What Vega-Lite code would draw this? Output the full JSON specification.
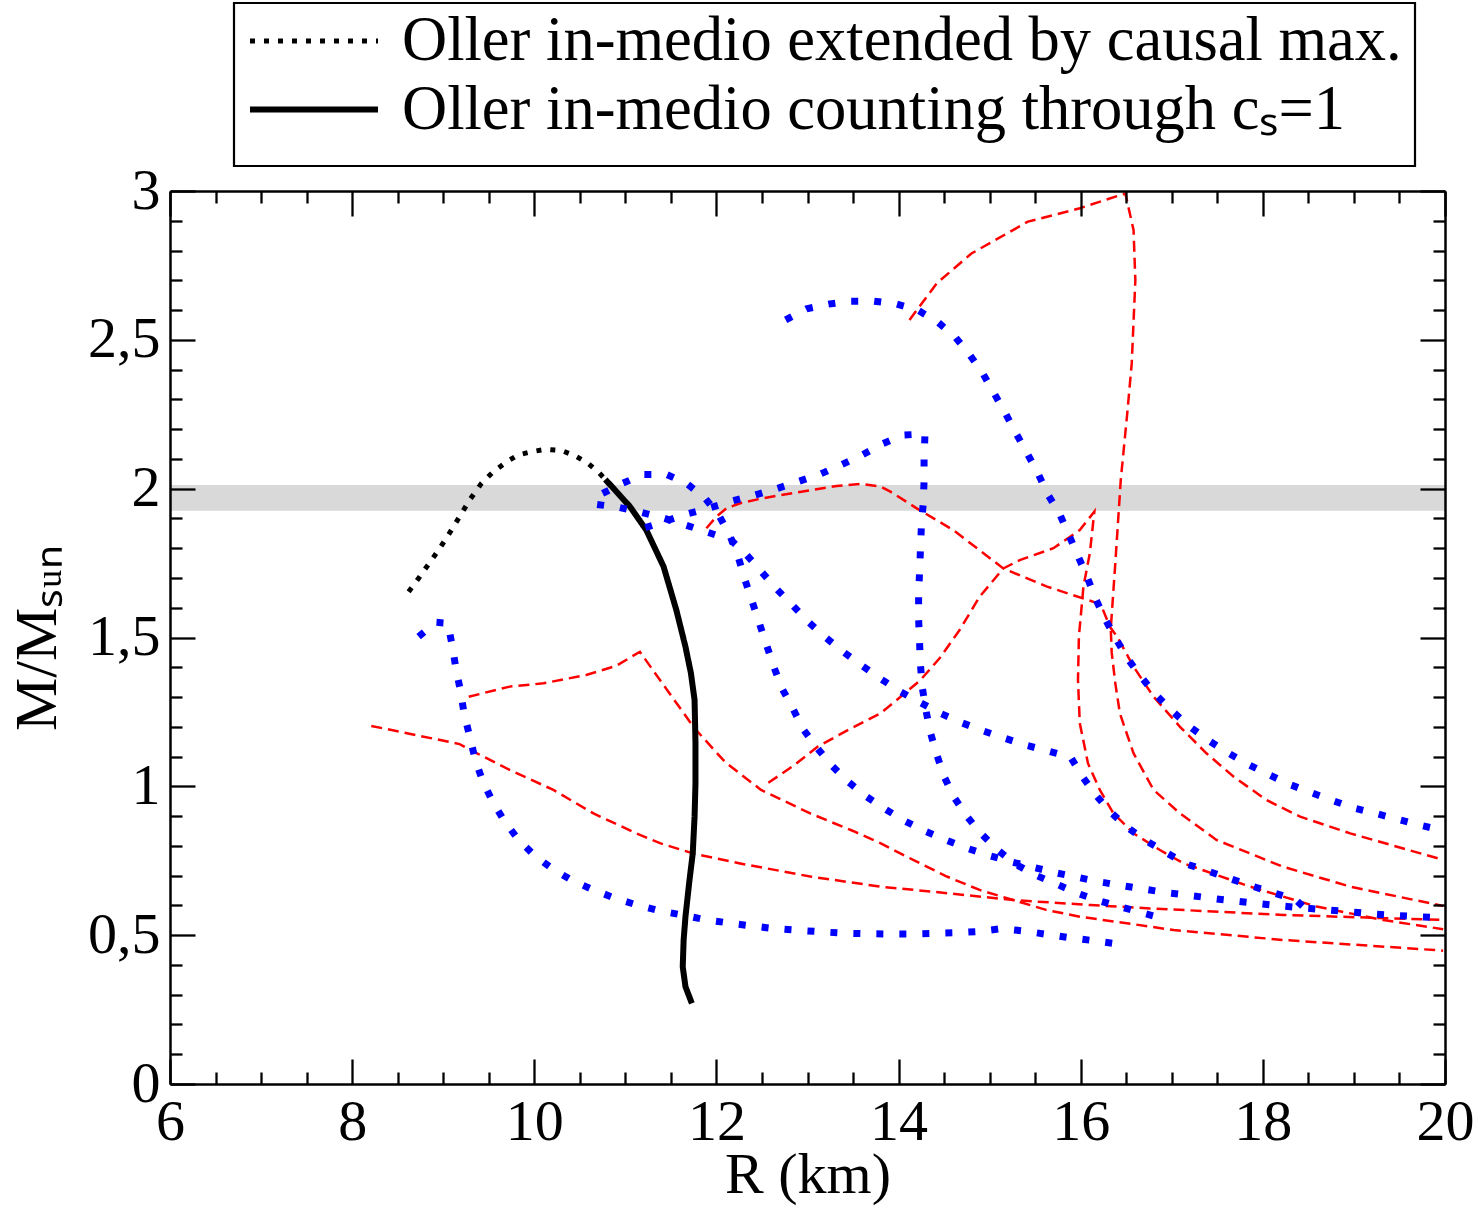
{
  "$schema": "https://vega.github.io/schema/vega-lite/v6.json",
  "width": 1275,
  "height": 893,
  "autosize": {"type": "none"},
  "padding": {"left": 170, "top": 191, "right": 34, "bottom": 125},
  "background": "white",
  "config": {
    "view": {"stroke": null},
    "font": "Liberation Serif"
  },
  "datasets": {
    "band": [{"x1": 6, "x2": 20, "y1": 1.926, "y2": 2.012}],
    "black": [
      {"series": "Oller in-medio extended by causal max.", "R": 8.62, "M": 1.654},
      {"series": "Oller in-medio extended by causal max.", "R": 8.73, "M": 1.699},
      {"series": "Oller in-medio extended by causal max.", "R": 8.82, "M": 1.738},
      {"series": "Oller in-medio extended by causal max.", "R": 8.95, "M": 1.794},
      {"series": "Oller in-medio extended by causal max.", "R": 9.09, "M": 1.861},
      {"series": "Oller in-medio extended by causal max.", "R": 9.18, "M": 1.906},
      {"series": "Oller in-medio extended by causal max.", "R": 9.29, "M": 1.962},
      {"series": "Oller in-medio extended by causal max.", "R": 9.42, "M": 2.018},
      {"series": "Oller in-medio extended by causal max.", "R": 9.55, "M": 2.057},
      {"series": "Oller in-medio extended by causal max.", "R": 9.70, "M": 2.091},
      {"series": "Oller in-medio extended by causal max.", "R": 9.82, "M": 2.113},
      {"series": "Oller in-medio extended by causal max.", "R": 9.97, "M": 2.124},
      {"series": "Oller in-medio extended by causal max.", "R": 10.12, "M": 2.132},
      {"series": "Oller in-medio extended by causal max.", "R": 10.30, "M": 2.128},
      {"series": "Oller in-medio extended by causal max.", "R": 10.45, "M": 2.11},
      {"series": "Oller in-medio extended by causal max.", "R": 10.59, "M": 2.085},
      {"series": "Oller in-medio extended by causal max.", "R": 10.70, "M": 2.057},
      {"series": "Oller in-medio extended by causal max.", "R": 10.78, "M": 2.031},
      {"series": "Oller in-medio counting through cₛ=1", "R": 10.78, "M": 2.031},
      {"series": "Oller in-medio counting through cₛ=1", "R": 11.05, "M": 1.94},
      {"series": "Oller in-medio counting through cₛ=1", "R": 11.23, "M": 1.861},
      {"series": "Oller in-medio counting through cₛ=1", "R": 11.42, "M": 1.738},
      {"series": "Oller in-medio counting through cₛ=1", "R": 11.56, "M": 1.592},
      {"series": "Oller in-medio counting through cₛ=1", "R": 11.66, "M": 1.469},
      {"series": "Oller in-medio counting through cₛ=1", "R": 11.72, "M": 1.38},
      {"series": "Oller in-medio counting through cₛ=1", "R": 11.76, "M": 1.29},
      {"series": "Oller in-medio counting through cₛ=1", "R": 11.77, "M": 1.145},
      {"series": "Oller in-medio counting through cₛ=1", "R": 11.77, "M": 1.01},
      {"series": "Oller in-medio counting through cₛ=1", "R": 11.76, "M": 0.898},
      {"series": "Oller in-medio counting through cₛ=1", "R": 11.74, "M": 0.775},
      {"series": "Oller in-medio counting through cₛ=1", "R": 11.70, "M": 0.674},
      {"series": "Oller in-medio counting through cₛ=1", "R": 11.66, "M": 0.562},
      {"series": "Oller in-medio counting through cₛ=1", "R": 11.64, "M": 0.484},
      {"series": "Oller in-medio counting through cₛ=1", "R": 11.63, "M": 0.394},
      {"series": "Oller in-medio counting through cₛ=1", "R": 11.66, "M": 0.327},
      {"series": "Oller in-medio counting through cₛ=1", "R": 11.73, "M": 0.271}
    ],
    "blue": [
      {"c": "B1", "R": 8.73, "M": 1.503}, {"c": "B1", "R": 8.92, "M": 1.551}, {"c": "B1", "R": 9.05, "M": 1.548},
      {"c": "B1", "R": 9.10, "M": 1.471}, {"c": "B1", "R": 9.14, "M": 1.395}, {"c": "B1", "R": 9.19, "M": 1.32},
      {"c": "B1", "R": 9.23, "M": 1.243}, {"c": "B1", "R": 9.29, "M": 1.169}, {"c": "B1", "R": 9.35, "M": 1.092},
      {"c": "B1", "R": 9.43, "M": 1.02}, {"c": "B1", "R": 9.54, "M": 0.95}, {"c": "B1", "R": 9.67, "M": 0.884},
      {"c": "B1", "R": 9.82, "M": 0.823}, {"c": "B1", "R": 10.0, "M": 0.768}, {"c": "B1", "R": 10.20, "M": 0.723},
      {"c": "B1", "R": 10.42, "M": 0.683}, {"c": "B1", "R": 10.65, "M": 0.652}, {"c": "B1", "R": 10.88, "M": 0.625},
      {"c": "B1", "R": 11.12, "M": 0.602}, {"c": "B1", "R": 11.37, "M": 0.582}, {"c": "B1", "R": 11.62, "M": 0.568},
      {"c": "B1", "R": 11.86, "M": 0.553}, {"c": "B1", "R": 12.11, "M": 0.542}, {"c": "B1", "R": 12.36, "M": 0.532},
      {"c": "B1", "R": 12.61, "M": 0.523}, {"c": "B1", "R": 12.86, "M": 0.517}, {"c": "B1", "R": 13.12, "M": 0.512},
      {"c": "B1", "R": 13.37, "M": 0.507}, {"c": "B1", "R": 13.62, "M": 0.505}, {"c": "B1", "R": 13.87, "M": 0.504},
      {"c": "B1", "R": 14.12, "M": 0.504}, {"c": "B1", "R": 14.37, "M": 0.506}, {"c": "B1", "R": 14.62, "M": 0.508},
      {"c": "B1", "R": 14.87, "M": 0.512}, {"c": "B1", "R": 15.13, "M": 0.522}, {"c": "B1", "R": 15.38, "M": 0.514},
      {"c": "B1", "R": 15.62, "M": 0.503}, {"c": "B1", "R": 15.87, "M": 0.492}, {"c": "B1", "R": 16.13, "M": 0.482},
      {"c": "B1", "R": 16.37, "M": 0.472},

      {"c": "B2", "R": 12.76, "M": 2.567}, {"c": "B2", "R": 12.99, "M": 2.604}, {"c": "B2", "R": 13.23, "M": 2.62},
      {"c": "B2", "R": 13.47, "M": 2.63}, {"c": "B2", "R": 13.73, "M": 2.63}, {"c": "B2", "R": 13.98, "M": 2.62},
      {"c": "B2", "R": 14.21, "M": 2.60}, {"c": "B2", "R": 14.43, "M": 2.56}, {"c": "B2", "R": 14.62, "M": 2.51},
      {"c": "B2", "R": 14.78, "M": 2.45}, {"c": "B2", "R": 14.92, "M": 2.39}, {"c": "B2", "R": 15.05, "M": 2.32},
      {"c": "B2", "R": 15.17, "M": 2.255}, {"c": "B2", "R": 15.29, "M": 2.186}, {"c": "B2", "R": 15.41, "M": 2.12},
      {"c": "B2", "R": 15.53, "M": 2.052}, {"c": "B2", "R": 15.64, "M": 1.98}, {"c": "B2", "R": 15.77, "M": 1.914},
      {"c": "B2", "R": 15.87, "M": 1.844}, {"c": "B2", "R": 15.97, "M": 1.774}, {"c": "B2", "R": 16.07, "M": 1.704},
      {"c": "B2", "R": 16.16, "M": 1.632}, {"c": "B2", "R": 16.27, "M": 1.561}, {"c": "B2", "R": 16.39, "M": 1.494},
      {"c": "B2", "R": 16.52, "M": 1.427}, {"c": "B2", "R": 16.67, "M": 1.365}, {"c": "B2", "R": 16.83, "M": 1.306},
      {"c": "B2", "R": 17.01, "M": 1.251}, {"c": "B2", "R": 17.2, "M": 1.20}, {"c": "B2", "R": 17.40, "M": 1.155},
      {"c": "B2", "R": 17.62, "M": 1.112}, {"c": "B2", "R": 17.83, "M": 1.075}, {"c": "B2", "R": 18.06, "M": 1.04},
      {"c": "B2", "R": 18.28, "M": 1.008}, {"c": "B2", "R": 18.52, "M": 0.98}, {"c": "B2", "R": 18.76, "M": 0.953},
      {"c": "B2", "R": 18.99, "M": 0.928}, {"c": "B2", "R": 19.24, "M": 0.909}, {"c": "B2", "R": 19.48, "M": 0.889},
      {"c": "B2", "R": 19.73, "M": 0.869}, {"c": "B2", "R": 19.96, "M": 0.853},

      {"c": "B3", "R": 10.75, "M": 1.984}, {"c": "B3", "R": 10.97, "M": 2.018}, {"c": "B3", "R": 11.20, "M": 2.048},
      {"c": "B3", "R": 11.45, "M": 2.048}, {"c": "B3", "R": 11.67, "M": 2.018}, {"c": "B3", "R": 11.87, "M": 1.97},
      {"c": "B3", "R": 12.03, "M": 1.909}, {"c": "B3", "R": 12.15, "M": 1.841}, {"c": "B3", "R": 12.24, "M": 1.77},
      {"c": "B3", "R": 12.31, "M": 1.697}, {"c": "B3", "R": 12.39, "M": 1.623}, {"c": "B3", "R": 12.47, "M": 1.549},
      {"c": "B3", "R": 12.55, "M": 1.475}, {"c": "B3", "R": 12.63, "M": 1.402}, {"c": "B3", "R": 12.72, "M": 1.329},
      {"c": "B3", "R": 12.84, "M": 1.261}, {"c": "B3", "R": 12.95, "M": 1.193}, {"c": "B3", "R": 13.10, "M": 1.131},
      {"c": "B3", "R": 13.26, "M": 1.072}, {"c": "B3", "R": 13.44, "M": 1.017}, {"c": "B3", "R": 13.64, "M": 0.967},
      {"c": "B3", "R": 13.85, "M": 0.924}, {"c": "B3", "R": 14.06, "M": 0.885}, {"c": "B3", "R": 14.28, "M": 0.851},
      {"c": "B3", "R": 14.52, "M": 0.82}, {"c": "B3", "R": 14.75, "M": 0.792}, {"c": "B3", "R": 14.99, "M": 0.768},
      {"c": "B3", "R": 15.23, "M": 0.747}, {"c": "B3", "R": 15.48, "M": 0.728}, {"c": "B3", "R": 15.72, "M": 0.71},
      {"c": "B3", "R": 15.97, "M": 0.694}, {"c": "B3", "R": 16.21, "M": 0.679}, {"c": "B3", "R": 16.46, "M": 0.666},
      {"c": "B3", "R": 16.71, "M": 0.654}, {"c": "B3", "R": 16.96, "M": 0.642}, {"c": "B3", "R": 17.21, "M": 0.633},
      {"c": "B3", "R": 17.46, "M": 0.623}, {"c": "B3", "R": 17.71, "M": 0.614}, {"c": "B3", "R": 17.96, "M": 0.606},
      {"c": "B3", "R": 18.21, "M": 0.598}, {"c": "B3", "R": 18.46, "M": 0.591}, {"c": "B3", "R": 18.71, "M": 0.585},
      {"c": "B3", "R": 18.97, "M": 0.578}, {"c": "B3", "R": 19.22, "M": 0.571}, {"c": "B3", "R": 19.47, "M": 0.566},
      {"c": "B3", "R": 19.72, "M": 0.562}, {"c": "B3", "R": 19.96, "M": 0.558},

      {"c": "B4", "R": 10.69, "M": 1.947}, {"c": "B4", "R": 10.93, "M": 1.937}, {"c": "B4", "R": 11.18, "M": 1.92},
      {"c": "B4", "R": 11.43, "M": 1.90}, {"c": "B4", "R": 11.67, "M": 1.877}, {"c": "B4", "R": 11.90, "M": 1.854},
      {"c": "B4", "R": 12.16, "M": 1.827}, {"c": "B4", "R": 12.33, "M": 1.778}, {"c": "B4", "R": 12.50, "M": 1.719},
      {"c": "B4", "R": 12.66, "M": 1.663}, {"c": "B4", "R": 12.84, "M": 1.607}, {"c": "B4", "R": 13.01, "M": 1.552},
      {"c": "B4", "R": 13.20, "M": 1.50}, {"c": "B4", "R": 13.40, "M": 1.45}, {"c": "B4", "R": 13.60, "M": 1.405},
      {"c": "B4", "R": 13.81, "M": 1.36}, {"c": "B4", "R": 14.02, "M": 1.318}, {"c": "B4", "R": 14.24, "M": 1.281},
      {"c": "B4", "R": 14.46, "M": 1.245}, {"c": "B4", "R": 14.69, "M": 1.214}, {"c": "B4", "R": 14.93, "M": 1.186},
      {"c": "B4", "R": 15.16, "M": 1.162}, {"c": "B4", "R": 15.40, "M": 1.138}, {"c": "B4", "R": 15.65, "M": 1.118},
      {"c": "B4", "R": 15.89, "M": 1.098}, {"c": "B4", "R": 16.02, "M": 1.032}, {"c": "B4", "R": 16.17, "M": 0.969},
      {"c": "B4", "R": 16.33, "M": 0.913}, {"c": "B4", "R": 16.52, "M": 0.86}, {"c": "B4", "R": 16.72, "M": 0.817},
      {"c": "B4", "R": 16.94, "M": 0.777}, {"c": "B4", "R": 17.16, "M": 0.739}, {"c": "B4", "R": 17.40, "M": 0.715},
      {"c": "B4", "R": 17.64, "M": 0.69}, {"c": "B4", "R": 17.88, "M": 0.665}, {"c": "B4", "R": 18.12, "M": 0.642},
      {"c": "B4", "R": 18.36, "M": 0.619}, {"c": "B4", "R": 18.46, "M": 0.591},

      {"c": "B5", "R": 11.22, "M": 1.869}, {"c": "B5", "R": 11.46, "M": 1.893}, {"c": "B5", "R": 11.70, "M": 1.917},
      {"c": "B5", "R": 11.94, "M": 1.937}, {"c": "B5", "R": 12.18, "M": 1.959}, {"c": "B5", "R": 12.43, "M": 1.979},
      {"c": "B5", "R": 12.67, "M": 2.001}, {"c": "B5", "R": 12.90, "M": 2.024}, {"c": "B5", "R": 13.14, "M": 2.049},
      {"c": "B5", "R": 13.37, "M": 2.08}, {"c": "B5", "R": 13.60, "M": 2.113}, {"c": "B5", "R": 13.82, "M": 2.15},
      {"c": "B5", "R": 14.05, "M": 2.18}, {"c": "B5", "R": 14.29, "M": 2.184}, {"c": "B5", "R": 14.28, "M": 2.102},
      {"c": "B5", "R": 14.28, "M": 2.026}, {"c": "B5", "R": 14.27, "M": 1.948}, {"c": "B5", "R": 14.25, "M": 1.871},
      {"c": "B5", "R": 14.24, "M": 1.794}, {"c": "B5", "R": 14.23, "M": 1.718}, {"c": "B5", "R": 14.22, "M": 1.64},
      {"c": "B5", "R": 14.22, "M": 1.563}, {"c": "B5", "R": 14.23, "M": 1.487}, {"c": "B5", "R": 14.24, "M": 1.41},
      {"c": "B5", "R": 14.26, "M": 1.333}, {"c": "B5", "R": 14.30, "M": 1.256}, {"c": "B5", "R": 14.35, "M": 1.18},
      {"c": "B5", "R": 14.42, "M": 1.106}, {"c": "B5", "R": 14.50, "M": 1.033}, {"c": "B5", "R": 14.61, "M": 0.963},
      {"c": "B5", "R": 14.75, "M": 0.899}, {"c": "B5", "R": 14.91, "M": 0.84}, {"c": "B5", "R": 15.09, "M": 0.786},
      {"c": "B5", "R": 15.27, "M": 0.741}, {"c": "B5", "R": 15.50, "M": 0.702}, {"c": "B5", "R": 15.74, "M": 0.671},
      {"c": "B5", "R": 15.97, "M": 0.64}, {"c": "B5", "R": 16.21, "M": 0.615}, {"c": "B5", "R": 16.45, "M": 0.594},
      {"c": "B5", "R": 16.70, "M": 0.573}, {"c": "B5", "R": 16.94, "M": 0.553}
    ],
    "red": [
      {"c": "R1", "R": 8.21, "M": 1.203}, {"c": "R1", "R": 9.18, "M": 1.142}, {"c": "R1", "R": 9.37, "M": 1.111},
      {"c": "R1", "R": 9.73, "M": 1.055}, {"c": "R1", "R": 10.21, "M": 0.988}, {"c": "R1", "R": 10.65, "M": 0.909},
      {"c": "R1", "R": 11.12, "M": 0.842}, {"c": "R1", "R": 11.38, "M": 0.809}, {"c": "R1", "R": 11.76, "M": 0.773},
      {"c": "R1", "R": 12.26, "M": 0.741}, {"c": "R1", "R": 13.03, "M": 0.697}, {"c": "R1", "R": 13.80, "M": 0.663},
      {"c": "R1", "R": 14.57, "M": 0.64}, {"c": "R1", "R": 15.26, "M": 0.618}, {"c": "R1", "R": 16.11, "M": 0.601},
      {"c": "R1", "R": 16.76, "M": 0.59}, {"c": "R1", "R": 18.22, "M": 0.568}, {"c": "R1", "R": 19.98, "M": 0.551},

      {"c": "R2", "R": 9.28, "M": 1.301}, {"c": "R2", "R": 9.73, "M": 1.335}, {"c": "R2", "R": 10.10, "M": 1.346},
      {"c": "R2", "R": 10.57, "M": 1.374}, {"c": "R2", "R": 10.90, "M": 1.405}, {"c": "R2", "R": 11.16, "M": 1.452},
      {"c": "R2", "R": 11.38, "M": 1.357}, {"c": "R2", "R": 11.76, "M": 1.195}, {"c": "R2", "R": 12.10, "M": 1.08},
      {"c": "R2", "R": 12.49, "M": 0.988}, {"c": "R2", "R": 13.03, "M": 0.909}, {"c": "R2", "R": 13.50, "M": 0.85},
      {"c": "R2", "R": 13.80, "M": 0.809}, {"c": "R2", "R": 14.16, "M": 0.753}, {"c": "R2", "R": 14.53, "M": 0.697},
      {"c": "R2", "R": 14.89, "M": 0.652}, {"c": "R2", "R": 15.26, "M": 0.618}, {"c": "R2", "R": 15.62, "M": 0.585},
      {"c": "R2", "R": 15.99, "M": 0.562}, {"c": "R2", "R": 16.76, "M": 0.529}, {"c": "R2", "R": 17.02, "M": 0.517},
      {"c": "R2", "R": 18.22, "M": 0.484}, {"c": "R2", "R": 19.98, "M": 0.448},

      {"c": "R3", "R": 12.57, "M": 1.012}, {"c": "R3", "R": 12.85, "M": 1.07}, {"c": "R3", "R": 13.11, "M": 1.133},
      {"c": "R3", "R": 13.45, "M": 1.19}, {"c": "R3", "R": 13.80, "M": 1.245}, {"c": "R3", "R": 13.98, "M": 1.29},
      {"c": "R3", "R": 14.24, "M": 1.357}, {"c": "R3", "R": 14.45, "M": 1.43}, {"c": "R3", "R": 14.67, "M": 1.525},
      {"c": "R3", "R": 14.89, "M": 1.637}, {"c": "R3", "R": 15.15, "M": 1.732}, {"c": "R3", "R": 15.33, "M": 1.76},
      {"c": "R3", "R": 15.70, "M": 1.80}, {"c": "R3", "R": 15.99, "M": 1.861}, {"c": "R3", "R": 16.15, "M": 1.923},
      {"c": "R3", "R": 16.10, "M": 1.783}, {"c": "R3", "R": 16.03, "M": 1.671}, {"c": "R3", "R": 15.98, "M": 1.503},
      {"c": "R3", "R": 15.97, "M": 1.357}, {"c": "R3", "R": 15.99, "M": 1.212}, {"c": "R3", "R": 16.08, "M": 1.077},
      {"c": "R3", "R": 16.21, "M": 0.988}, {"c": "R3", "R": 16.36, "M": 0.909}, {"c": "R3", "R": 16.58, "M": 0.842},
      {"c": "R3", "R": 16.87, "M": 0.786}, {"c": "R3", "R": 17.13, "M": 0.741}, {"c": "R3", "R": 17.86, "M": 0.663},
      {"c": "R3", "R": 18.59, "M": 0.596}, {"c": "R3", "R": 19.32, "M": 0.551}, {"c": "R3", "R": 19.98, "M": 0.52},

      {"c": "R4", "R": 14.12, "M": 2.567}, {"c": "R4", "R": 14.42, "M": 2.69}, {"c": "R4", "R": 14.80, "M": 2.79},
      {"c": "R4", "R": 15.42, "M": 2.897}, {"c": "R4", "R": 15.99, "M": 2.942}, {"c": "R4", "R": 16.49, "M": 2.992},
      {"c": "R4", "R": 16.58, "M": 2.869}, {"c": "R4", "R": 16.60, "M": 2.70}, {"c": "R4", "R": 16.56, "M": 2.42},
      {"c": "R4", "R": 16.51, "M": 2.25}, {"c": "R4", "R": 16.44, "M": 2.03}, {"c": "R4", "R": 16.38, "M": 1.75},
      {"c": "R4", "R": 16.33, "M": 1.53}, {"c": "R4", "R": 16.34, "M": 1.45}, {"c": "R4", "R": 16.38, "M": 1.346},
      {"c": "R4", "R": 16.43, "M": 1.245}, {"c": "R4", "R": 16.58, "M": 1.111}, {"c": "R4", "R": 16.80, "M": 0.988},
      {"c": "R4", "R": 17.09, "M": 0.909}, {"c": "R4", "R": 17.49, "M": 0.82}, {"c": "R4", "R": 18.22, "M": 0.73},
      {"c": "R4", "R": 18.96, "M": 0.663}, {"c": "R4", "R": 19.98, "M": 0.598},

      {"c": "R5", "R": 11.89, "M": 1.867}, {"c": "R5", "R": 12.0, "M": 1.906}, {"c": "R5", "R": 12.11, "M": 1.934},
      {"c": "R5", "R": 12.26, "M": 1.951}, {"c": "R5", "R": 12.51, "M": 1.968}, {"c": "R5", "R": 12.88, "M": 1.987},
      {"c": "R5", "R": 13.32, "M": 2.009}, {"c": "R5", "R": 13.58, "M": 2.016}, {"c": "R5", "R": 13.80, "M": 2.007},
      {"c": "R5", "R": 13.91, "M": 1.99}, {"c": "R5", "R": 14.20, "M": 1.934}, {"c": "R5", "R": 14.60, "M": 1.861},
      {"c": "R5", "R": 15.15, "M": 1.732}, {"c": "R5", "R": 15.63, "M": 1.671}, {"c": "R5", "R": 16.14, "M": 1.62},
      {"c": "R5", "R": 16.23, "M": 1.604}, {"c": "R5", "R": 16.32, "M": 1.536}, {"c": "R5", "R": 16.40, "M": 1.503},
      {"c": "R5", "R": 16.58, "M": 1.402}, {"c": "R5", "R": 16.80, "M": 1.301}, {"c": "R5", "R": 17.09, "M": 1.20},
      {"c": "R5", "R": 17.38, "M": 1.111}, {"c": "R5", "R": 17.68, "M": 1.032}, {"c": "R5", "R": 18.04, "M": 0.954},
      {"c": "R5", "R": 18.41, "M": 0.898}, {"c": "R5", "R": 18.96, "M": 0.842}, {"c": "R5", "R": 19.98, "M": 0.753}
    ]
  },
  "layer": [
    {
      "data": {"name": "band"},
      "mark": {"type": "rect", "color": "#d9d9d9"},
      "encoding": {
        "x": {
          "field": "x1", "type": "quantitative",
          "scale": {"domain": [6, 20], "nice": false, "zero": false},
          "axis": {
            "orient": "bottom",
            "values": [6,6.5,7,7.5,8,8.5,9,9.5,10,10.5,11,11.5,12,12.5,13,13.5,14,14.5,15,15.5,16,16.5,17,17.5,18,18.5,19,19.5,20],
            "tickSize": {"condition": {"test": "datum.value % 2 === 0", "value": -25}, "value": -12},
            "tickWidth": 2.3, "tickColor": "black",
            "domain": true, "domainColor": "black", "domainWidth": 2.5,
            "grid": false,
            "labelExpr": "datum.value % 2 === 0 ? format(datum.value, 'd') : ''",
            "labelFont": "Liberation Serif", "labelFontSize": 58, "labelColor": "black",
            "labelPadding": 34, "labelFlush": false, "labelOverlap": false, "labelBound": false,
            "title": "R (km)", "titleFont": "Liberation Serif", "titleFontSize": 58,
            "titleFontWeight": "normal", "titleColor": "black", "titlePadding": -18,
            "zindex": 1
          }
        },
        "x2": {"field": "x2"},
        "y": {
          "field": "y1", "type": "quantitative",
          "scale": {"domain": [0, 3], "nice": false, "zero": false},
          "axis": {
            "orient": "left",
            "values": [0,0.1,0.2,0.3,0.4,0.5,0.6,0.7,0.8,0.9,1,1.1,1.2,1.3,1.4,1.5,1.6,1.7,1.8,1.9,2,2.1,2.2,2.3,2.4,2.5,2.6,2.7,2.8,2.9,3],
            "tickSize": {"condition": {"test": "abs(datum.value*2 - round(datum.value*2)) < 0.01", "value": -25}, "value": -12},
            "tickWidth": 2.3, "tickColor": "black",
            "domain": true, "domainColor": "black", "domainWidth": 2.5,
            "grid": false,
            "labelExpr": "abs(datum.value*2 - round(datum.value*2)) < 0.01 ? replace(format(datum.value, '.1~f'), '.', ',') : ''",
            "labelFont": "Liberation Serif", "labelFontSize": 58, "labelColor": "black",
            "labelPadding": 35, "labelFlush": false, "labelOverlap": false, "labelBound": false,
            "title": "M/Mₛᵤₙ", "titleFont": "Liberation Serif", "titleFontSize": 60,
            "titleFontWeight": "normal", "titleColor": "black", "titlePadding": 19,
            "zindex": 1
          }
        },
        "y2": {"field": "y2"}
      }
    },
    {
      "data": {"name": "red"},
      "mark": {"type": "line", "color": "#ff0000", "strokeWidth": 2.5, "strokeDash": [11, 6]},
      "encoding": {
        "x": {
          "field": "R", "type": "quantitative",
          "scale": {"domain": [6, 20], "nice": false, "zero": false},
          "axis": {
            "orient": "top",
            "values": [6,6.5,7,7.5,8,8.5,9,9.5,10,10.5,11,11.5,12,12.5,13,13.5,14,14.5,15,15.5,16,16.5,17,17.5,18,18.5,19,19.5,20],
            "tickSize": {"condition": {"test": "datum.value % 2 === 0", "value": -25}, "value": -12},
            "tickWidth": 2.3, "tickColor": "black",
            "domain": true, "domainColor": "black", "domainWidth": 2.5,
            "grid": false, "labels": false, "title": null, "zindex": 1
          }
        },
        "y": {
          "field": "M", "type": "quantitative",
          "scale": {"domain": [0, 3], "nice": false, "zero": false},
          "axis": {
            "orient": "right",
            "values": [0,0.1,0.2,0.3,0.4,0.5,0.6,0.7,0.8,0.9,1,1.1,1.2,1.3,1.4,1.5,1.6,1.7,1.8,1.9,2,2.1,2.2,2.3,2.4,2.5,2.6,2.7,2.8,2.9,3],
            "tickSize": {"condition": {"test": "abs(datum.value*2 - round(datum.value*2)) < 0.01", "value": -25}, "value": -12},
            "tickWidth": 2.3, "tickColor": "black",
            "domain": true, "domainColor": "black", "domainWidth": 2.5,
            "grid": false, "labels": false, "title": null, "zindex": 1
          }
        },
        "detail": {"field": "c", "type": "nominal"},
        "order": {"value": null}
      }
    },
    {
      "data": {"name": "black"},
      "mark": {"type": "line", "color": "black", "strokeCap": "butt"},
      "encoding": {
        "x": {"field": "R", "type": "quantitative", "scale": {"domain": [6, 20], "nice": false, "zero": false}, "axis": null},
        "y": {"field": "M", "type": "quantitative", "scale": {"domain": [0, 3], "nice": false, "zero": false}, "axis": null},
        "strokeDash": {
          "field": "series", "type": "nominal",
          "scale": {"domain": ["Oller in-medio extended by causal max.", "Oller in-medio counting through cₛ=1"], "range": [[5, 9], [1, 0]]},
          "legend": {
            "orient": "none", "legendX": 64, "legendY": -188,
            "title": " ", "titleOrient": "bottom", "titleFontSize": 10, "titlePadding": 2,
            "strokeColor": "black", "fillColor": "white", "padding": 13,
            "labelFont": "Liberation Serif", "labelFontSize": 62.5, "labelColor": "black", "labelLimit": 2000,
            "labelOffset": 21, "rowPadding": 5.5, "clipHeight": 50,
            "symbolType": "stroke", "symbolSize": 16384, "symbolStrokeColor": "black",
            "encode": {"legend": {"update": {"strokeWidth": {"value": 2.2}}}}
          }
        },
        "strokeWidth": {
          "field": "series", "type": "nominal",
          "scale": {"domain": ["Oller in-medio extended by causal max.", "Oller in-medio counting through cₛ=1"], "range": [5, 6]},
          "legend": {
            "orient": "none", "legendX": 64, "legendY": -188,
            "title": " ", "titleOrient": "bottom", "titleFontSize": 10, "titlePadding": 2,
            "strokeColor": "black", "fillColor": "white", "padding": 13,
            "labelFont": "Liberation Serif", "labelFontSize": 62.5, "labelColor": "black", "labelLimit": 2000,
            "labelOffset": 21, "rowPadding": 5.5, "clipHeight": 50,
            "symbolType": "stroke", "symbolSize": 16384, "symbolStrokeColor": "black",
            "encode": {"legend": {"update": {"strokeWidth": {"value": 2.2}}}}
          }
        },
        "order": {"value": null}
      }
    },
    {
      "data": {"name": "blue"},
      "mark": {"type": "line", "color": "#0000ff", "strokeWidth": 7, "strokeDash": [7, 16], "strokeCap": "butt"},
      "encoding": {
        "x": {"field": "R", "type": "quantitative", "scale": {"domain": [6, 20], "nice": false, "zero": false}, "axis": null},
        "y": {"field": "M", "type": "quantitative", "scale": {"domain": [0, 3], "nice": false, "zero": false}, "axis": null},
        "detail": {"field": "c", "type": "nominal"},
        "order": {"value": null}
      }
    }
  ],
  "resolve": {"axis": {"x": "independent", "y": "independent"}}
}
